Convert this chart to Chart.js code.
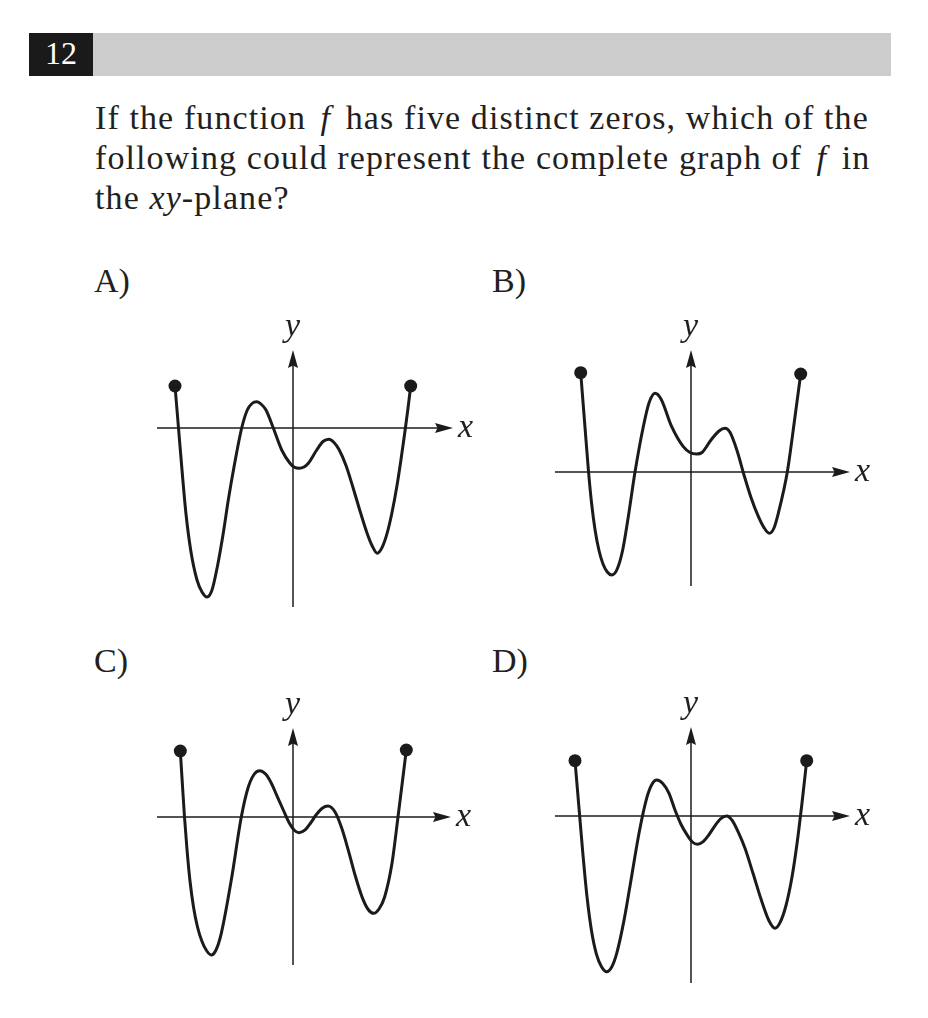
<!DOCTYPE html>
<html>
<head>
<meta charset="utf-8">
<script src="https://cdn.jsdelivr.net/npm/chart.js@4.4.0/dist/chart.umd.min.js"></script>
<style>
  body { margin: 0; background: #fff; }
  #page { position: relative; width: 928px; height: 1018px; overflow: hidden;
          font-family: "Liberation Serif", "Times New Roman", serif; color: #231f20; }
  .t { position: absolute; line-height: 0; white-space: nowrap; }
  #numbox { position: absolute; left: 29px; top: 33px; width: 64px; height: 43px; background: #1a1a1a; }
  #bar { position: absolute; left: 93px; top: 33px; width: 798px; height: 43px; background: #cccccc; }
  #question { position: absolute; left: 95px; top: 98px; font-size: 34px; line-height: 40px;
              letter-spacing: 1.1px; white-space: nowrap; }
  #question i.f { margin: 0 5px; }
  canvas { position: absolute; }
  .ax { font-style: italic; font-size: 34px; }
  .opt { font-size: 34px; }
</style>
</head>
<body>
<div id="page">
  <div id="numbox"></div>
  <div id="bar"></div>
  <div class="t" style="left:29px;width:64px;text-align:center;top:53px;font-size:32px;color:#fff;">12</div>
  <div id="question">If the function <i class="f">f</i> has five distinct zeros, which of the<br>following could represent the complete graph of <i class="f">f</i> in<br>the <i>xy</i>-plane?</div>
  <div class="t opt" style="left:94px;top:281px;">A)</div>
  <div class="t opt" style="left:492px;top:281px;">B)</div>
  <div class="t opt" style="left:94px;top:661px;">C)</div>
  <div class="t opt" style="left:492px;top:661px;">D)</div>
</div>
<script>
// curve points (1 unit = 10 px, origin where the axes cross)
const xA = [-11.8, -11.45, -11.1, -10.7, -10.2, -9.6, -9.1, -8.6, -8.1, -7.57, -6.97, -6.47, -5.9, -5.13, -4.57,
            -4.1, -3.63, -3.15, -2.7, -1.97, -1.13, -0.3, 0.1, 0.63, 1.1, 1.53, 2.37, 3.0, 3.6, 4.1, 4.6, 5.3,
            6.0, 6.7, 7.4, 7.9, 8.43, 8.9, 9.4, 9.9, 10.4, 10.8, 11.15, 11.5, 11.77];
const yA = [4.2, 0, -4.2, -8.6, -12.4, -15.2, -16.4, -16.9, -16.2, -13.9, -10.5, -7.2, -3.9, 0, 1.8,
            2.45, 2.63, 2.35, 1.8, 0, -2.2, -3.53, -3.9, -4.03, -3.9, -3.53, -2.2, -1.35, -1.13, -1.45, -2.15, -3.75,
            -5.95, -8.3, -10.5, -11.75, -12.53, -11.97, -10.57, -8.45, -5.75, -3.15, -0.67, 1.97, 4.2];

const xB = [-11.03, -10.65, -10.27, -9.95, -9.6, -9.2, -8.8, -8.37, -7.93, -7.4, -6.83, -6.27, -5.6, -4.77, -4.2, -3.6,
            -3.0, -1.93, -0.77, -0.1, 0.57, 1.1, 2.0, 2.8, 3.4, 3.9, 4.6, 5.3, 6.0, 6.7, 7.3, 7.83, 8.3, 8.73,
            9.63, 10.4, 10.97];
const yB = [9.93, 5.1, 0.3, -3.05, -5.75, -7.85, -9.2, -10.0, -10.3, -9.75, -7.8, -4.47, 0, 4.53, 6.9, 7.87,
            7.3, 4.53, 2.53, 1.95, 1.8, 1.95, 3.2, 4.1, 4.37, 3.97, 2.15, -0.3, -2.54, -4.36, -5.56, -6.13, -5.6, -4.13,
            0, 5.53, 9.8];

const xC = [-11.27, -11.05, -10.85, -10.6, -10.3, -9.95, -9.55, -9.1, -8.65, -8.17, -7.7, -7.17, -6.17, -5.17, -4.5, -3.9,
            -3.33, -2.74, -2.15, -1.56, -0.97, -0.4, 0.13, 0.6, 1.18, 1.76, 2.34, 2.92, 3.5, 4.19, 4.87, 5.56,
            6.24, 6.93, 7.52, 8.07, 8.6, 9.17, 9.9, 10.5, 11.33];
const yC = [6.6, 3.1, 0, -3.25, -6.4, -9.0, -11.0, -12.45, -13.35, -13.8, -13.3, -11.63, -6.3, 0, 2.9, 4.25,
            4.63, 4.29, 3.35, 2.01, 0.7, -0.55, -1.33, -1.57, -1.32, -0.6, 0.25, 0.88, 1.1, 0.52, -1.11, -3.43,
            -5.93, -8.06, -9.25, -9.63, -9.2, -7.97, -4.63, 0, 6.7];

const xD = [-11.6, -11.17, -10.8, -10.4, -9.95, -9.45, -8.95, -8.43, -7.93, -7.43, -6.68, -5.93, -5.18, -4.43,
            -3.93, -3.43, -2.82, -2.21, -1.6, -0.99, -0.39, 0.14, 0.63, 1.22, 1.81, 2.39, 2.98, 3.57, 4.1, 4.75,
            5.4, 6.2, 7.0, 7.8, 8.4, 8.9, 9.5, 10.1, 10.6, 11.1, 11.57];
const yD = [5.53, 0.44, -3.91, -8.07, -11.47, -13.84, -15.07, -15.57, -15.1, -13.74, -10.34, -5.99, -1.63, 1.78,
            3.13, 3.6, 3.25, 2.28, 0.6, -0.85, -1.89, -2.6, -2.83, -2.56, -1.85, -0.98, -0.27, 0, -0.42, -1.67,
            -3.23, -5.73, -8.31, -10.48, -11.23, -10.66, -8.95, -6.1, -2.78, 1.3, 5.53];

// where each graph sits on the page and how far its axes reach
const panels = [
  { xs: xA, ys: yA, ox: 293, oy: 428, xAxis: [-13.6, 16.0], yAxis: [-17.9, 7.8] },
  { xs: xB, ys: yB, ox: 691, oy: 472, xAxis: [-13.6, 15.9], yAxis: [-11.4, 12.2] },
  { xs: xC, ys: yC, ox: 293, oy: 817, xAxis: [-13.6, 15.8], yAxis: [-14.8, 8.9] },
  { xs: xD, ys: yD, ox: 691, oy: 816, xAxis: [-13.6, 15.9], yAxis: [-16.7, 8.9] }
];

const UNIT = 10;
const PAD = 14;
const INK = '#1c1a1b';
const page = document.getElementById('page');

// arrowhead used as a point style
const arrow = document.createElement('canvas');
arrow.width = 18;
arrow.height = 10;
const actx = arrow.getContext('2d');
actx.fillStyle = INK;
actx.beginPath();
actx.moveTo(18, 5);
actx.lineTo(0, 0);
actx.lineTo(2.5, 5);
actx.lineTo(0, 10);
actx.closePath();
actx.fill();

function addText(txt, cls, left, baseline) {
  const el = document.createElement('div');
  el.className = 't ' + cls;
  el.textContent = txt;
  el.style.left = left + 'px';
  el.style.top = (baseline - 0.3375 * 34) + 'px';
  page.appendChild(el);
  return el;
}

function makePanel(p) {
  const w = (p.xAxis[1] - p.xAxis[0]) * UNIT + 2 * PAD;
  const h = (p.yAxis[1] - p.yAxis[0]) * UNIT + 2 * PAD;
  const canvas = document.createElement('canvas');
  canvas.width = Math.round(w);
  canvas.height = Math.round(h);
  canvas.style.left = (p.ox + p.xAxis[0] * UNIT - PAD) + 'px';
  canvas.style.top = (p.oy - p.yAxis[1] * UNIT - PAD) + 'px';
  page.appendChild(canvas);

  const pts = p.xs.map((x, i) => ({ x: x, y: p.ys[i] }));
  const last = pts.length - 1;
  const half = arrow.width / 2 / UNIT;

  new Chart(canvas, {
    type: 'line',
    data: {
      datasets: [
        {
          data: pts,
          borderColor: INK,
          borderWidth: 3,
          borderCapStyle: 'round',
          borderJoinStyle: 'round',
          cubicInterpolationMode: 'monotone',
          pointRadius: ctx => (ctx.dataIndex === 0 || ctx.dataIndex === last) ? 6.5 : 0,
          pointBackgroundColor: INK,
          pointBorderWidth: 0,
          clip: false
        },
        {
          data: [{ x: p.xAxis[0], y: 0 }, { x: p.xAxis[1] - half, y: 0 }],
          borderColor: INK, borderWidth: 1.5, pointRadius: 0
        },
        {
          data: [{ x: 0, y: p.yAxis[0] }, { x: 0, y: p.yAxis[1] - half }],
          borderColor: INK, borderWidth: 1.5, pointRadius: 0
        },
        {
          data: [{ x: p.xAxis[1] - half, y: 0 }],
          showLine: false, pointStyle: arrow, pointRadius: 5, rotation: 0
        },
        {
          data: [{ x: 0, y: p.yAxis[1] - half }],
          showLine: false, pointStyle: arrow, pointRadius: 5, rotation: -90
        }
      ]
    },
    options: {
      responsive: false,
      animation: false,
      events: [],
      layout: { padding: 0, autoPadding: false },
      plugins: { legend: { display: false }, tooltip: { enabled: false } },
      scales: {
        x: { type: 'linear', display: false,
             min: p.xAxis[0] - PAD / UNIT, max: p.xAxis[1] + PAD / UNIT },
        y: { type: 'linear', display: false,
             min: p.yAxis[0] - PAD / UNIT, max: p.yAxis[1] + PAD / UNIT }
      }
    }
  });

  addText('x', 'ax', p.ox + p.xAxis[1] * UNIT + 5, p.oy + 9);
  addText('y', 'ax', p.ox - 8, p.oy - p.yAxis[1] * UNIT - 14);
}

panels.forEach(makePanel);
</script>
</body>
</html>
